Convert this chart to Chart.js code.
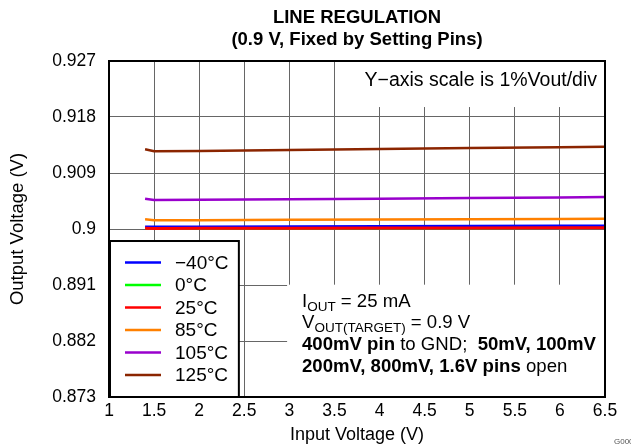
<!DOCTYPE html>
<html>
<head>
<meta charset="utf-8">
<script src="https://cdn.jsdelivr.net/npm/chart.js@4.4.1/dist/chart.umd.min.js"></script>
<style>
  html, body { margin: 0; padding: 0; background: #fff; }
  #wrap { width: 631px; height: 444px; position: relative; }
</style>
</head>
<body>
<div id="wrap"><canvas id="chart" width="631" height="444"></canvas></div>
<script>
// input voltage points (V)
const vin = [1.4, 1.5, 2, 3, 4, 5, 6, 6.5];

// output voltage per temperature (V)
const vNeg40 = [0.90037, 0.90035, 0.90037, 0.90041, 0.90045, 0.90048, 0.90051, 0.90053];
const v0 = [0.90013, 0.90011, 0.90012, 0.90014, 0.90016, 0.90018, 0.90020, 0.90021];
const v25 = [0.90011, 0.90010, 0.90011, 0.90013, 0.90015, 0.90017, 0.90019, 0.90020];
const v85 = [0.90155, 0.90139, 0.90142, 0.90147, 0.90152, 0.90157, 0.90162, 0.90165];
const v105 = [0.90487, 0.90466, 0.90470, 0.90478, 0.90488, 0.90498, 0.90508, 0.90513];
const v125 = [0.91281, 0.91250, 0.91255, 0.91270, 0.91285, 0.91300, 0.91315, 0.91322];

const seriesLabels = ["\u221240°C", "0°C", "25°C", "85°C", "105°C", "125°C"];
const seriesColors = ["#0000ff", "#00ff00", "#ff0000", "#ff8000", "#9900cc", "#8b2500"];

const xTicks = [1, 1.5, 2, 2.5, 3, 3.5, 4, 4.5, 5, 5.5, 6, 6.5];
const yTicks = [0.873, 0.882, 0.891, 0.9, 0.909, 0.918, 0.927];

const FONT = "'Liberation Sans', Arial, sans-serif";

const toPts = arr => arr.map((v, i) => ({ x: vin[i], y: v }));
const allSeries = [vNeg40, v0, v25, v85, v105, v125];
const drawOrder = [1, 3, 0, 2, 2, 2]; // red on top of green/blue

const datasets = allSeries.map((s, i) => ({
  label: seriesLabels[i],
  data: toPts(s),
  borderColor: seriesColors[i],
  borderWidth: i === 2 ? 3 : 2.5,
  pointRadius: 0,
  tension: 0,
  fill: false,
  order: drawOrder[i]
}));

// draws text made of runs (bold / subscript parts)
function drawRuns(ctx, x, y, runs) {
  runs.forEach(r => {
    const size = r.sub ? 13.5 : 18.6;
    ctx.font = (r.bold ? "bold " : "") + size + "px " + FONT;
    ctx.fillText(r.t, x, y + (r.sub ? 4 : 0));
    x += ctx.measureText(r.t).width;
  });
}

const decor = {
  id: "decor",
  beforeDatasetsDraw(chart) {
    const { ctx, chartArea: a, scales: { x, y } } = chart;
    ctx.save();
    ctx.fillStyle = "#fff";
    // note box at top right
    const nx = x.getPixelForValue(3.7);
    ctx.fillRect(nx, a.top, a.right - nx, y.getPixelForValue(0.9196) - a.top);
    // conditions box
    const cx = x.getPixelForValue(2.975);
    const cy = y.getPixelForValue(0.89105);
    ctx.fillRect(cx, cy, a.right - cx, a.bottom - cy);
    ctx.restore();
  },
  afterDatasetsDraw(chart) {
    const { ctx, chartArea: a, scales: { x, y } } = chart;
    ctx.save();

    // legend box
    const lx0 = a.left + 1, lx1 = x.getPixelForValue(2.44);
    const ly0 = y.getPixelForValue(0.89807), ly1 = a.bottom;
    ctx.fillStyle = "#fff";
    ctx.fillRect(lx0, ly0, lx1 - lx0, ly1 - ly0);
    ctx.strokeStyle = "#000";
    ctx.lineWidth = 2;
    ctx.strokeRect(lx0, ly0, lx1 - lx0, ly1 - ly0);
    ctx.textBaseline = "middle";
    ctx.font = "19px " + FONT;
    seriesLabels.forEach((lab, i) => {
      const ry = ly0 + 21.5 + i * 22.5;
      ctx.strokeStyle = seriesColors[i];
      ctx.lineWidth = 2.5;
      ctx.beginPath();
      ctx.moveTo(lx0 + 15, ry);
      ctx.lineTo(lx0 + 51, ry);
      ctx.stroke();
      ctx.fillStyle = "#000";
      ctx.fillText(lab, lx0 + 65, ry + 1);
    });

    // frame
    ctx.strokeStyle = "#000";
    ctx.lineWidth = 2;
    ctx.strokeRect(a.left, a.top, a.right - a.left, a.bottom - a.top);

    // top-right note
    ctx.fillStyle = "#000";
    ctx.textAlign = "right";
    ctx.font = "19.5px " + FONT;
    ctx.fillText("Y\u2212axis scale is 1%Vout/div", a.right - 8, a.top + 20);

    // operating conditions
    ctx.textAlign = "left";
    ctx.textBaseline = "alphabetic";
    const tx = 302;
    drawRuns(ctx, tx, 307, [{ t: "I" }, { t: "OUT", sub: true }, { t: " = 25 mA" }]);
    drawRuns(ctx, tx, 328, [{ t: "V" }, { t: "OUT(TARGET)", sub: true }, { t: " = 0.9 V" }]);
    drawRuns(ctx, tx, 350, [{ t: "400mV pin", bold: true }, { t: " to GND;  " }, { t: "50mV, 100mV", bold: true }]);
    drawRuns(ctx, tx, 372, [{ t: "200mV, 800mV, 1.6V pins", bold: true }, { t: " open" }]);

    // title
    ctx.textAlign = "center";
    ctx.textBaseline = "middle";
    ctx.font = "bold 18.5px " + FONT;
    const mid = (a.left + a.right) / 2;
    ctx.fillText("LINE REGULATION", mid, 18);
    ctx.fillText("(0.9 V, Fixed by Setting Pins)", mid, 40);

    // figure id, cut at the corner
    ctx.fillStyle = "#555";
    ctx.font = "8px " + FONT;
    ctx.textAlign = "left";
    ctx.fillText("G000", 614, 442);
    ctx.restore();
  }
};

new Chart(document.getElementById("chart"), {
  type: "line",
  data: { datasets },
  options: {
    responsive: false,
    animation: false,
    layout: { padding: { left: 0, right: 26, top: 61, bottom: 0 } },
    plugins: { legend: { display: false }, tooltip: { enabled: false } },
    scales: {
      x: {
        type: "linear",
        min: 1,
        max: 6.5,
        afterBuildTicks: s => { s.ticks = xTicks.map(v => ({ value: v })); },
        afterFit: s => { s.height = 47; },
        grid: { color: "#666", lineWidth: 1, drawTicks: false },
        border: { display: false },
        ticks: {
          color: "#000",
          font: { family: FONT, size: 17.5 },
          padding: 4,
          maxRotation: 0,
          callback: v => String(v)
        },
        title: {
          display: true,
          text: "Input Voltage (V)",
          color: "#000",
          font: { family: FONT, size: 18, lineHeight: 0.95 },
          padding: { top: 0, bottom: 0 }
        }
      },
      y: {
        type: "linear",
        min: 0.873,
        max: 0.927,
        afterBuildTicks: s => { s.ticks = yTicks.map(v => ({ value: v })); },
        afterFit: s => { s.width = 109; },
        grid: { color: "#666", lineWidth: 1, drawTicks: false },
        border: { display: false },
        ticks: {
          color: "#000",
          font: { family: FONT, size: 17.5 },
          padding: 13,
          callback: v => String(Number(v.toFixed(3)))
        },
        title: {
          display: true,
          text: "Output Voltage (V)",
          color: "#000",
          font: { family: FONT, size: 18.5, lineHeight: 1 },
          padding: { top: 9, bottom: 4 }
        }
      }
    }
  },
  plugins: [decor]
});
</script>
</body>
</html>
